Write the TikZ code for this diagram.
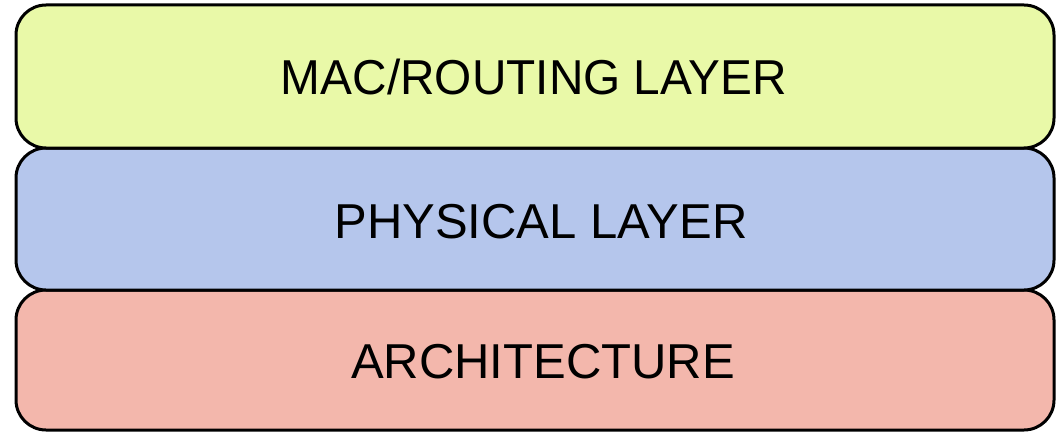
\documentclass[tikz,border=0pt]{standalone}
\usepackage{fontspec}
\setmainfont{Liberation Sans}
\definecolor{macfill}{RGB}{233,249,168}
\definecolor{phyfill}{RGB}{181,198,236}
\definecolor{archfill}{RGB}{243,183,172}
\begin{document}
\begin{tikzpicture}[x=1pt,y=-1pt,
  layerbox/.style={draw=black, line width=3pt, rounded corners=30pt},
  layertext/.style={font=\fontsize{49}{54}\selectfont, text=black, anchor=base, inner sep=0pt}]
\useasboundingbox (0,0) rectangle (1057,433);
% three stacked protocol layers
\draw[layerbox, fill=archfill] (16,290) rectangle (1054,430);
\draw[layerbox, fill=phyfill] (16,148) rectangle (1054,290);
\draw[layerbox, fill=macfill] (16,5) rectangle (1054,148);
\node[layertext, xscale=0.975] (mac) at (534,95) {MAC/ROUTING LAYER};
\node[layertext] (phy) at (541,238) {PHYSICAL LAYER};
\node[layertext] (arch) at (543,378) {ARCHITECTURE};
\end{tikzpicture}
\end{document}
